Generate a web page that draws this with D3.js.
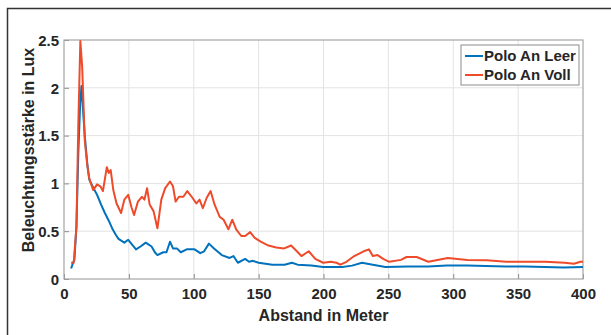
<!DOCTYPE html>
<html>
<head>
<meta charset="utf-8">
<script src="https://cdn.jsdelivr.net/npm/d3@7"></script>
<style>
  body { margin: 0; background: #fff; }
  text { font-family: "Liberation Sans", Arial, sans-serif; font-weight: bold; fill: #262626; }
</style>
</head>
<body>
<div id="chart"></div>
<script>
// distance in metres and illuminance in lux
var distLeer = [5.5, 7, 8, 9.6, 11, 12.5, 13.5, 14.5, 16, 18, 19.5, 22, 25.5, 28.5, 31.5, 34.5, 37.5, 40, 42, 46.5,
    49.5, 52.5, 55.5, 59, 63, 67.5, 70, 72, 76.5, 79, 81.7, 84, 87, 90, 94.6, 100.6, 105, 108, 111.7, 115.6,
    121.6, 127.6, 130.6, 134, 139.6, 142.6, 145.6, 150, 160.6, 170, 175.7, 180, 190.7, 199.7, 214.7, 222, 229.7,
    238, 247.7, 265, 280.8, 295, 310.8, 325, 340.8, 355, 370.9, 385, 400];
var luxLeer = [0.11, 0.17, 0.2, 0.55, 1.3, 1.85, 2.02, 1.8, 1.5, 1.2, 1.04, 0.97, 0.88, 0.78, 0.69, 0.61, 0.52, 0.46, 0.42, 0.38,
    0.41, 0.36, 0.31, 0.34, 0.38, 0.34, 0.28, 0.25, 0.28, 0.28, 0.39, 0.32, 0.32, 0.28, 0.31, 0.31, 0.27, 0.29, 0.37, 0.32,
    0.25, 0.22, 0.24, 0.17, 0.21, 0.18, 0.19, 0.17, 0.15, 0.15, 0.17, 0.15, 0.14, 0.125, 0.125, 0.14, 0.17,
    0.15, 0.125, 0.13, 0.13, 0.14, 0.14, 0.135, 0.13, 0.13, 0.125, 0.12, 0.125];

var distVoll = [5.5, 7.5, 9.6, 11, 12.6, 14, 16, 18, 19.5, 22.5, 25.5, 28, 30, 33, 34.5, 36, 38, 40.5, 44, 46.5,
    49.5, 52, 54, 57, 60, 62, 64, 66, 69, 72, 75, 78, 81.7, 84, 86, 88.6, 92, 95, 99, 102, 104.5, 107, 110, 113,
    116, 120, 123, 126.7, 129.7, 132.7, 136.6, 139.6, 143.5, 147, 151.6, 157.6, 163.6, 169.7, 175, 178.7, 183,
    188.6, 193.7, 199.7, 205.7, 210, 213, 217.7, 223.7, 231, 235, 238, 241.7, 246, 250.7, 259.7, 264, 271.8,
    280.8, 295.8, 310.8, 325.8, 340.8, 355.9, 370.9, 385.9, 393, 398, 400];
var luxVoll = [0.17, 0.17, 0.55, 1.6, 2.49, 2.22, 1.45, 1.18, 1.05, 0.93, 0.99, 0.97, 0.92, 1.17, 1.11, 1.14, 0.93, 0.79, 0.69, 0.83,
    0.88, 0.75, 0.67, 0.81, 0.86, 0.83, 0.95, 0.78, 0.71, 0.53, 0.83, 0.95, 1.02, 0.97, 0.81, 0.86, 0.86, 0.92, 0.85, 0.79, 0.83, 0.74, 0.85, 0.92,
    0.78, 0.65, 0.62, 0.52, 0.62, 0.52, 0.45, 0.45, 0.49, 0.43, 0.39, 0.35, 0.33, 0.32, 0.35, 0.30, 0.24,
    0.29, 0.21, 0.17, 0.18, 0.17, 0.15, 0.18, 0.24, 0.29, 0.31, 0.24, 0.25, 0.21, 0.18, 0.20, 0.23, 0.23,
    0.18, 0.22, 0.20, 0.195, 0.18, 0.18, 0.18, 0.17, 0.16, 0.18, 0.18];

var xTicks = [0, 50, 100, 150, 200, 250, 300, 350, 400];
var yTicks = [0, 0.5, 1, 1.5, 2, 2.5];
var seriesNames = ["Polo An Leer", "Polo An Voll"];
var seriesColors = ["#0072BD", "#EE4B2B"];

var W = 611, H = 335;
var margin = { top: 40, right: 28, bottom: 56, left: 64 },
    width = W - margin.left - margin.right,
    height = H - margin.top - margin.bottom;

var svgRoot = d3.select("#chart").append("svg")
    .attr("width", W)
    .attr("height", H);

// outer frame of the figure (top and left edge only visible)
svgRoot.append("path")
    .attr("d", "M7.5," + H + "V8.5H" + W)
    .attr("fill", "none")
    .attr("stroke", "#333")
    .attr("stroke-width", 1.5);

var svg = svgRoot.append("g")
    .attr("transform", "translate(" + margin.left + "," + margin.top + ")");

var x = d3.scaleLinear().domain([0, 400]).range([0, width]);
var y = d3.scaleLinear().domain([0, 2.5]).range([height, 0]);

// grid
svg.append("g").selectAll("line.gx")
    .data(xTicks.slice(1, -1))
    .enter().append("line")
    .attr("x1", function (d) { return x(d); })
    .attr("x2", function (d) { return x(d); })
    .attr("y1", 0).attr("y2", height)
    .attr("stroke", "#e3e3e3");
svg.append("g").selectAll("line.gy")
    .data(yTicks.slice(1, -1))
    .enter().append("line")
    .attr("y1", function (d) { return y(d); })
    .attr("y2", function (d) { return y(d); })
    .attr("x1", 0).attr("x2", width)
    .attr("stroke", "#e3e3e3");

// axes, MATLAB style ticks pointing inward
var xAxis = svg.append("g")
    .attr("transform", "translate(0," + height + ")")
    .call(d3.axisBottom(x).tickValues(xTicks).tickSizeInner(-5).tickSizeOuter(0).tickPadding(9));
var yAxis = svg.append("g")
    .call(d3.axisLeft(y).tickValues(yTicks).tickSizeInner(-5).tickSizeOuter(0).tickPadding(5)
        .tickFormat(function (d) { return d; }));
[xAxis, yAxis].forEach(function (a) {
    a.select(".domain").remove();
    a.selectAll(".tick line").attr("stroke", "#8c8c8c");
    a.selectAll(".tick text").style("font-size", "15px").style("font-family", "Liberation Sans, Arial, sans-serif")
        .style("font-weight", "bold").attr("fill", "#262626");
});
yAxis.selectAll(".tick text").attr("dy", "0.35em");

// plot box
svg.append("rect")
    .attr("width", width).attr("height", height)
    .attr("fill", "none")
    .attr("stroke", "#a6a6a6")
    .attr("stroke-width", 1.2);

var line = d3.line()
    .x(function (d) { return x(d[0]); })
    .y(function (d) { return y(d[1]); });

var dataLeer = d3.zip(distLeer, luxLeer);
var dataVoll = d3.zip(distVoll, luxVoll);

svg.append("path").datum(dataLeer)
    .attr("d", line).attr("fill", "none")
    .attr("stroke", seriesColors[0]).attr("stroke-width", 2)
    .attr("stroke-linejoin", "round");
svg.append("path").datum(dataVoll)
    .attr("d", line).attr("fill", "none")
    .attr("stroke", seriesColors[1]).attr("stroke-width", 2)
    .attr("stroke-linejoin", "round");

// axis titles
svg.append("text")
    .attr("x", width / 2).attr("y", height + 42)
    .attr("text-anchor", "middle")
    .style("font-size", "16px")
    .text("Abstand in Meter");
svgRoot.append("text")
    .attr("transform", "translate(34,150) rotate(-90)")
    .attr("text-anchor", "middle")
    .style("font-size", "16px")
    .text("Beleuchtungsstärke in Lux");

// legend
var lg = svgRoot.append("g").attr("transform", "translate(461,45)");
lg.append("rect")
    .attr("width", 118).attr("height", 40)
    .attr("fill", "#fff")
    .attr("stroke", "#8c8c8c");
seriesNames.forEach(function (name, i) {
    var ly = 11 + i * 19;
    lg.append("line")
        .attr("x1", 4).attr("x2", 22)
        .attr("y1", ly).attr("y2", ly)
        .attr("stroke", seriesColors[i]).attr("stroke-width", 2);
    lg.append("text")
        .attr("x", 23).attr("y", ly).attr("dy", "0.35em")
        .style("font-size", "15px")
        .text(name);
});
</script>
</body>
</html>
